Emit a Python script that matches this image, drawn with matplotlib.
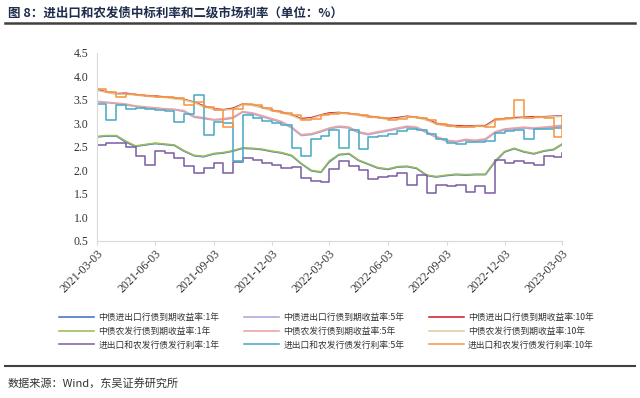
import matplotlib
matplotlib.use("Agg")
import matplotlib.pyplot as plt
import matplotlib.dates as mdates
import pandas as pd
import numpy as np

# semi-monthly observation dates, 2021-03-03 .. 2023-03-03
dates = []
for y, m in [(2021 + (2 + k) // 12, (2 + k) % 12 + 1) for k in range(25)]:
    dates.append(pd.Timestamp(year=y, month=m, day=3))
    if not (y == 2023 and m == 3):
        dates.append(pd.Timestamp(year=y, month=m, day=18))

exim_1y = [2.71, 2.73, 2.73, 2.60, 2.51, 2.54, 2.57, 2.55, 2.53, 2.41, 2.31, 2.29, 2.35, 2.37, 2.41, 2.47, 2.46,
           2.44, 2.40, 2.37, 2.31, 2.14, 1.99, 1.96, 2.18, 2.33, 2.35, 2.21, 2.13, 2.05, 2.02, 2.07, 2.08, 2.04,
           1.89, 1.86, 1.89, 1.91, 1.90, 1.91, 1.91, 2.18, 2.39, 2.46, 2.39, 2.35, 2.41, 2.44, 2.55]
exim_5y = [3.46, 3.44, 3.42, 3.39, 3.36, 3.33, 3.32, 3.30, 3.29, 3.25, 3.13, 3.10, 3.07, 3.08, 3.11, 3.24, 3.20,
           3.14, 3.08, 3.02, 2.90, 2.74, 2.76, 2.82, 2.88, 2.92, 2.90, 2.80, 2.76, 2.80, 2.84, 2.88, 2.92, 2.90,
           2.80, 2.70, 2.62, 2.60, 2.64, 2.62, 2.65, 2.80, 2.86, 2.88, 2.90, 2.88, 2.90, 2.92, 2.94]
exim_10y = [3.72, 3.67, 3.63, 3.64, 3.61, 3.59, 3.58, 3.56, 3.54, 3.51, 3.45, 3.37, 3.31, 3.29, 3.32, 3.41, 3.39,
            3.34, 3.28, 3.24, 3.18, 3.10, 3.12, 3.18, 3.22, 3.23, 3.21, 3.18, 3.15, 3.13, 3.10, 3.12, 3.15, 3.13,
            3.09, 3.00, 2.96, 2.95, 2.94, 2.95, 2.95, 3.08, 3.10, 3.12, 3.13, 3.14, 3.14, 3.15, 3.16]
adbc_1y = [2.72, 2.74, 2.74, 2.62, 2.52, 2.55, 2.58, 2.56, 2.54, 2.42, 2.32, 2.30, 2.36, 2.38, 2.42, 2.48, 2.47,
           2.45, 2.41, 2.38, 2.32, 2.15, 2.00, 1.97, 2.20, 2.34, 2.36, 2.22, 2.14, 2.06, 2.03, 2.08, 2.09, 2.05,
           1.90, 1.87, 1.90, 1.92, 1.91, 1.92, 1.92, 2.20, 2.40, 2.47, 2.40, 2.36, 2.42, 2.45, 2.56]
adbc_5y = [3.47, 3.45, 3.43, 3.41, 3.37, 3.35, 3.33, 3.31, 3.30, 3.27, 3.15, 3.12, 3.08, 3.10, 3.13, 3.25, 3.22,
           3.16, 3.10, 3.04, 2.92, 2.76, 2.78, 2.84, 2.90, 2.94, 2.92, 2.82, 2.78, 2.82, 2.86, 2.90, 2.94, 2.92,
           2.82, 2.72, 2.64, 2.62, 2.66, 2.64, 2.67, 2.82, 2.88, 2.90, 2.92, 2.90, 2.92, 2.94, 2.96]
adbc_10y = [3.70, 3.66, 3.62, 3.62, 3.60, 3.58, 3.56, 3.55, 3.52, 3.50, 3.44, 3.35, 3.30, 3.28, 3.30, 3.40, 3.38,
            3.33, 3.27, 3.22, 3.17, 3.08, 3.10, 3.17, 3.20, 3.22, 3.20, 3.17, 3.13, 3.12, 3.08, 3.10, 3.14, 3.12,
            3.07, 2.98, 2.94, 2.93, 2.92, 2.94, 2.93, 3.06, 3.08, 3.10, 3.12, 3.12, 3.13, 3.14, 3.15]
issue_1y = [2.55, 2.58, 2.58, 2.50, 2.30, 2.12, 2.42, 2.36, 2.26, 2.10, 1.95, 2.05, 2.16, 1.95, 2.18, 2.26, 2.22,
            2.16, 2.12, 2.05, 2.08, 1.84, 1.78, 1.75, 2.02, 2.19, 2.09, 2.00, 1.81, 1.86, 1.88, 1.95, 1.70, 1.90,
            1.52, 1.70, 1.66, 1.68, 1.55, 1.66, 1.52, 2.23, 2.16, 2.20, 2.16, 2.12, 2.30, 2.28, 2.37]
issue_5y = [3.41, 3.08, 3.38, 3.30, 3.33, 3.30, 3.28, 3.27, 3.02, 3.20, 3.60, 2.75, 3.02, 3.00, 2.20, 3.18, 3.12,
            3.06, 3.00, 2.96, 2.48, 2.30, 2.66, 2.74, 2.86, 2.48, 2.86, 2.45, 2.72, 2.74, 2.78, 2.84, 2.88, 2.86,
            2.78, 2.66, 2.58, 2.56, 2.60, 2.60, 2.62, 2.80, 2.84, 2.86, 2.66, 2.88, 2.88, 2.90, 2.92]
issue_10y = [3.72, 3.66, 3.55, 3.62, 3.60, 3.58, 3.57, 3.55, 3.53, 3.40, 3.45, 3.35, 3.28, 2.92, 3.30, 3.42, 3.38,
             3.33, 3.27, 3.22, 3.18, 3.08, 3.10, 3.17, 3.20, 3.22, 3.20, 3.17, 3.13, 3.12, 3.08, 3.10, 3.14, 3.12,
             3.07, 2.98, 2.94, 2.93, 2.92, 2.94, 2.93, 3.10, 3.12, 3.50, 3.12, 3.13, 3.12, 2.70, 3.14]

labels = ["中债进出口行债到期收益率:1年", "中债进出口行债到期收益率:5年", "中债进出口行债到期收益率:10年",
          "中债农发行债到期收益率:1年", "中债农发行债到期收益率:5年", "中债农发行债到期收益率:10年",
          "进出口和农发行债发行利率:1年", "进出口和农发行债发行利率:5年", "进出口和农发行债发行利率:10年"]
series = [exim_1y, exim_5y, exim_10y, adbc_1y, adbc_5y, adbc_10y, issue_1y, issue_5y, issue_10y]
colors = ["#4472C4", "#A9A6DA", "#D0202E", "#9BBB59", "#EBA3A3", "#DCCB9E", "#7E62A6", "#4BACC6", "#F79646"]
steps = [False, False, False, False, False, False, True, True, True]

plt.rcParams['font.family'] = ['Noto Sans CJK SC', 'DejaVu Sans']

fig = plt.figure(figsize=(6.4, 3.98), dpi=100)
ax = fig.add_axes([0.151, 0.3945, 0.727, 0.473])

handles = []
for vals, lab, c, st in zip(series, labels, colors, steps):
    h, = ax.plot(dates, vals, color=c, lw=1.15, label=lab,
                 drawstyle='steps-post' if st else 'default')
    handles.append(h)

ax.set_ylim(0.5, 4.5)
ax.set_yticks(np.arange(0.5, 4.51, 0.5))
ax.yaxis.set_major_formatter(matplotlib.ticker.FormatStrFormatter('%.1f'))
ax.set_xlim(pd.Timestamp('2021-03-03'), pd.Timestamp('2023-03-03'))
xt = [pd.Timestamp('2021-03-03') + pd.DateOffset(months=3 * k) for k in range(9)]
ax.set_xticks(xt)
ax.xaxis.set_major_formatter(mdates.DateFormatter('%Y-%m-%d'))

for s in ['top', 'right']:
    ax.spines[s].set_visible(False)
for s in ['left', 'bottom']:
    ax.spines[s].set_color('#D9D9D9')
    ax.spines[s].set_linewidth(0.8)
ax.tick_params(axis='y', length=0, pad=6)
ax.tick_params(axis='x', length=3, color='#D9D9D9', pad=2)
for t in ax.get_yticklabels():
    t.set_fontfamily('Liberation Serif')
    t.set_fontsize(8.5)
    t.set_color('#333333')
for t in ax.get_xticklabels():
    t.set_fontfamily('Liberation Serif')
    t.set_fontsize(8.5)
    t.set_color('#333333')
    t.set_rotation(45)
    t.set_ha('right')
    t.set_rotation_mode('anchor')

order = [0, 3, 6, 1, 4, 7, 2, 5, 8]
leg = fig.legend([handles[i] for i in order], [labels[i] for i in order],
                 loc='center', bbox_to_anchor=(0.51, 0.168), ncol=3, frameon=False,
                 fontsize=6.3, handlelength=4.0, columnspacing=2.8, labelspacing=0.55,
                 handletextpad=0.5)
for t in leg.get_texts():
    t.set_color('#333333')

fig.text(0.012, 0.968, "图 8：进出口和农发债中标利率和二级市场利率（单位：%）", fontsize=9,
         fontweight='bold', color='#1F2D4D', va='center', ha='left')
fig.add_artist(plt.Line2D([0.008, 0.992], [0.943, 0.943], color='#404040', lw=1.8))
fig.add_artist(plt.Line2D([0.008, 0.992], [0.08, 0.08], color='#404040', lw=1.5))
fig.text(0.012, 0.037, "数据来源：Wind，东吴证券研究所", fontsize=8, color='#333333', va='center', ha='left')

fig.savefig("out.png", dpi=100)
